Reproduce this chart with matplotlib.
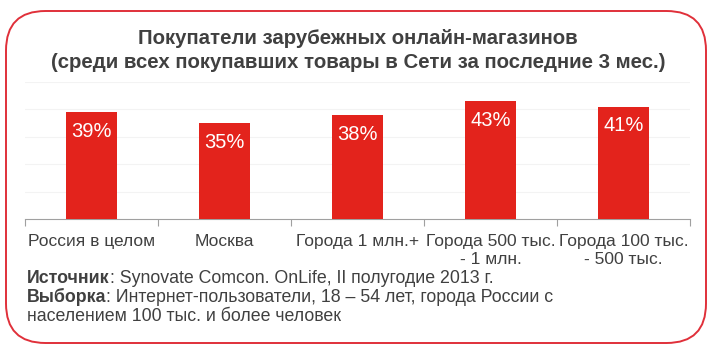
import matplotlib
matplotlib.use('Agg')
import matplotlib.pyplot as plt
from matplotlib.patches import FancyBboxPatch

plt.rcParams['font.family'] = ['Liberation Sans', 'DejaVu Sans']

categories = ['Россия в целом', 'Москва', 'Города 1 млн.+',
              'Города 500 тыс.\n- 1 млн.', 'Города 100 тыс.\n- 500 тыс.']
values = [39, 35, 38, 43, 41]
value_labels = ['39%', '35%', '38%', '43%', '41%']
title_lines = ['Покупатели зарубежных онлайн-магазинов',
               '(среди всех покупавших товары в Сети за последние 3 мес.)']
notes = [('Источник', ': Synovate Comcon. OnLife, II полугодие 2013 г.'),
         ('Выборка', ': Интернет-пользователи, 18 – 54 лет, города России с'),
         ('', 'населением 100 тыс. и более человек')]

W, H = 718, 353
fig = plt.figure(figsize=(W / 100, H / 100), dpi=100)
fig.patch.set_facecolor('white')

# rounded red frame
frame = FancyBboxPatch((6 / W, (H - 343) / H), 700 / W, 332 / H,
                       boxstyle='round,pad=0,rounding_size=0.055',
                       transform=fig.transFigure, fill=False,
                       edgecolor='#e0303a', linewidth=1.4,
                       mutation_aspect=W / H)
fig.patches.append(frame)

ax = fig.add_axes([25 / W, (H - 219) / H, 665 / W, 137 / H])
x = list(range(len(categories)))
ax.bar(x, values, width=0.38, color='#e3231c', zorder=3)
ax.set_xlim(-0.5, len(categories) - 0.5)
ax.set_ylim(0, 50)
ax.set_yticks([10, 20, 30, 40, 50])
ax.yaxis.grid(True, color='#f3f3f3', linewidth=0.8, zorder=0)
ax.tick_params(axis='y', left=False, labelleft=False)
for s in ['top', 'right', 'left']:
    ax.spines[s].set_visible(False)
ax.spines['bottom'].set_color('#a0a0a0')
ax.set_xticks([i - 0.5 for i in range(len(categories) + 1)], minor=False)
ax.set_xticklabels([])
ax.tick_params(axis='x', direction='out', length=5, color='#a0a0a0')
ax.set_xticks(x, minor=True)
ax.set_xticklabels(categories, minor=True, fontsize=12.5, color='#404040',
                   linespacing=1.2)
ax.tick_params(axis='x', which='minor', length=0, pad=11)

for xi, v, lab in zip(x, values, value_labels):
    ax.text(xi, v - 7.0, lab, ha='center', va='center', color='white',
            fontsize=14.5)

fig.text(358 / W, 1 - 38 / H, title_lines[0], ha='center', va='center',
         fontsize=14.7, fontweight='bold', color='#404040')
fig.text(358 / W, 1 - 62 / H, title_lines[1], ha='center', va='center',
         fontsize=14.7, fontweight='bold', color='#404040')

fig.canvas.draw()
rend = fig.canvas.get_renderer()
ys = [283, 302, 321]
for (b, r), yy in zip(notes, ys):
    x0 = 27
    if b:
        t = fig.text(x0 / W, 1 - yy / H, b, ha='left', va='baseline',
                     fontsize=12.8, fontweight='bold', color='#404040')
        x0 = t.get_window_extent(rend).x1
    fig.text(x0 / W, 1 - yy / H, r, ha='left', va='baseline',
             fontsize=12.8, color='#404040')

fig.savefig('out.png', dpi=100)
